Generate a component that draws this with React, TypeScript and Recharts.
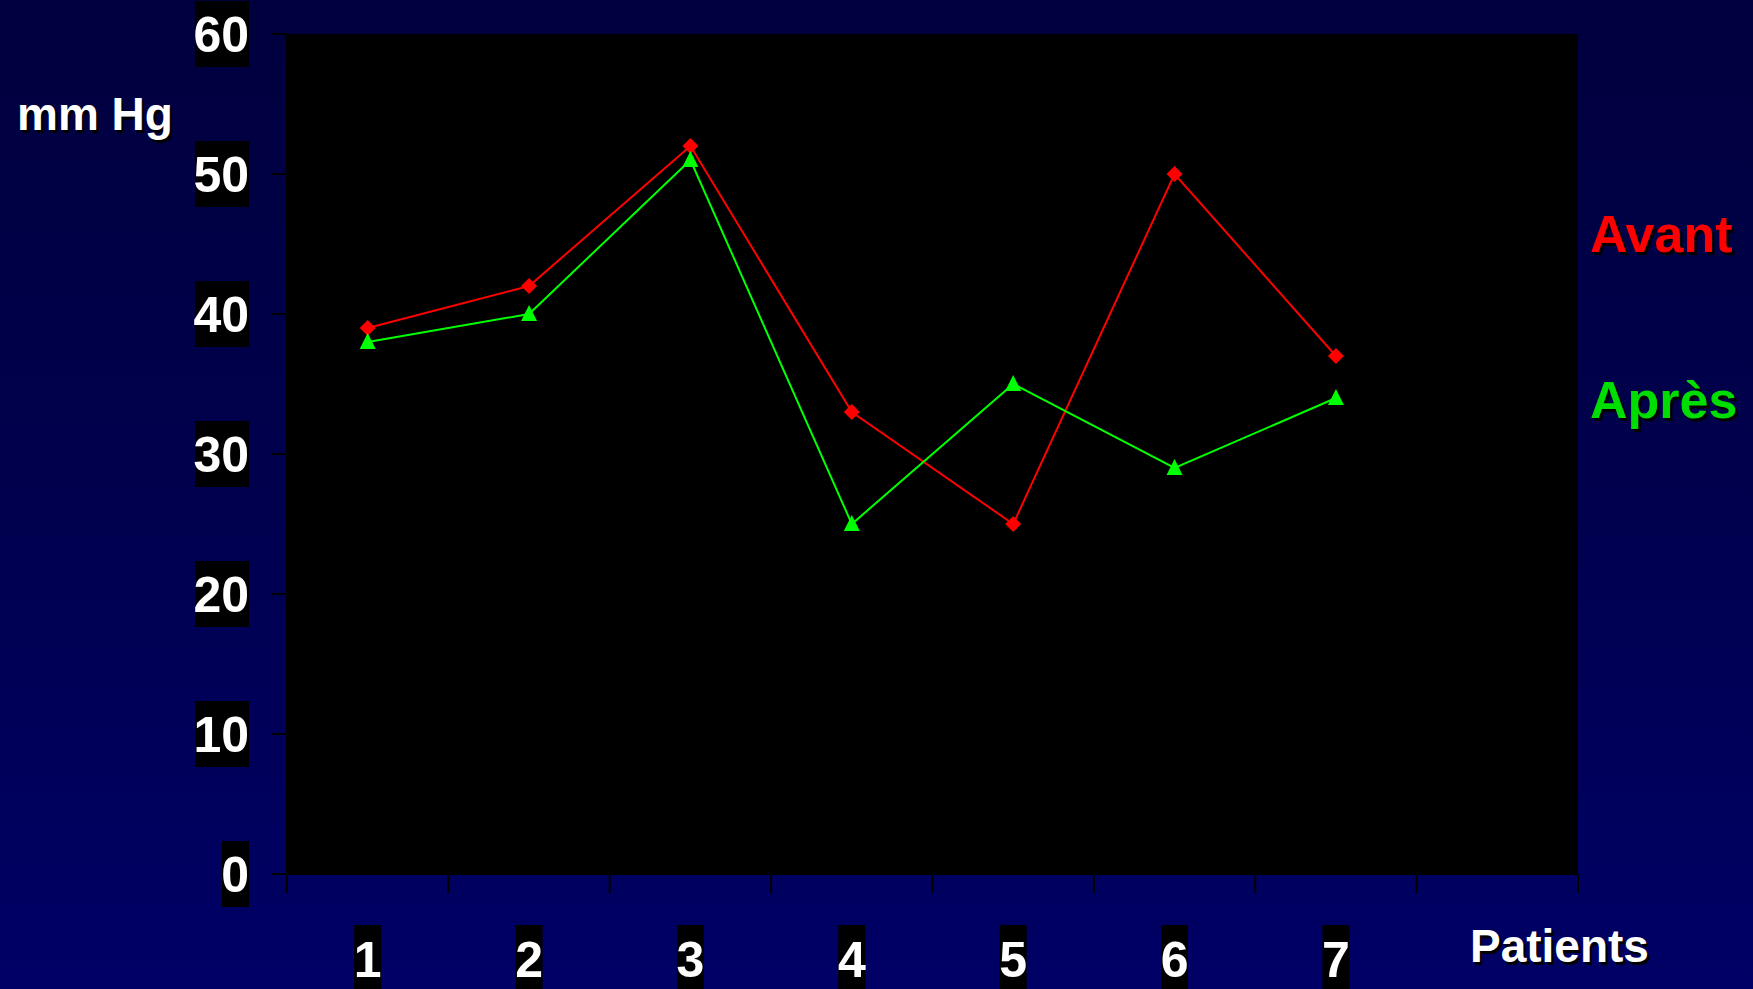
import React from 'react';
import { LineChart, Line, XAxis, YAxis, CartesianGrid } from 'recharts';

const patients = [1, 2, 3, 4, 5, 6, 7];
const avant = [39, 42, 52, 33, 25, 50, 37];
const apres = [38, 40, 51, 25, 35, 29, 34];
const yTicks = [0, 10, 20, 30, 40, 50, 60];
const bandEdges = [0.5, 1.5, 2.5, 3.5, 4.5, 5.5, 6.5, 7.5, 8.5];

const rows = patients.map((p, i) => ({ patient: p, avant: avant[i], apres: apres[i] }));

const W = 1753;
const H = 989;
const FONT = '"Liberation Sans", Arial, sans-serif';

function Diamond(props: any) {
  const { cx, cy } = props;
  if (cx == null || cy == null) return null;
  const r = 8;
  return <path d={`M${cx},${cy - r}L${cx + r},${cy}L${cx},${cy + r}L${cx - r},${cy}Z`} fill="#ff0000" />;
}

function Triangle(props: any) {
  const { cx, cy } = props;
  if (cx == null || cy == null) return null;
  return <path d={`M${cx},${cy - 9}L${cx + 8},${cy + 7}L${cx - 8},${cy + 7}Z`} fill="#00ff00" />;
}

function YTick(props: any) {
  const { y, payload } = props;
  const label = String(payload.value);
  const w = label.length * 27;
  return (
    <g>
      <rect x={249 - w} y={y - 33} width={w} height={66} fill="#000" />
      <text x={249} y={y + 18} textAnchor="end" fill="#fff" fontFamily={FONT} fontWeight="bold" fontSize={50}>
        {label}
      </text>
    </g>
  );
}

function XTick(props: any) {
  const { x, payload } = props;
  return (
    <g>
      <rect x={x - 13.5} y={925} width={27} height={70} fill="#000" />
      <text x={x} y={977} textAnchor="middle" fill="#fff" fontFamily={FONT} fontWeight="bold" fontSize={50}>
        {payload.value}
      </text>
    </g>
  );
}

function NoLabel() {
  return <g />;
}

function Shadowed({ x, y, fill, size, children }: any) {
  return (
    <g fontFamily={FONT} fontWeight="bold" fontSize={size}>
      <text x={x + 2.5} y={y + 2.5} fill="#000">{children}</text>
      <text x={x} y={y} fill={fill}>{children}</text>
    </g>
  );
}

export default function App() {
  return (
    <div
      style={{
        position: 'absolute',
        left: 0,
        top: 0,
        width: W,
        height: H,
        background: 'linear-gradient(to bottom, #00003e 0%, #00004e 50%, #000066 100%)',
        overflow: 'hidden',
      }}
    >
      <LineChart width={W} height={H} data={rows} margin={{ top: 34, right: 175, bottom: 0, left: 0 }}>
        <CartesianGrid horizontal={false} vertical={false} fill="#000" />
        <XAxis
          xAxisId="edges"
          type="number"
          dataKey="patient"
          domain={[0.5, 8.5]}
          ticks={bandEdges}
          interval={0}
          tick={<NoLabel />}
          tickSize={19}
          height={114}
          axisLine={{ stroke: '#000', strokeWidth: 2 }}
          tickLine={{ stroke: '#000', strokeWidth: 2 }}
        />
        <XAxis
          xAxisId="labels"
          type="number"
          dataKey="patient"
          domain={[0.5, 8.5]}
          ticks={patients}
          interval={0}
          tick={<XTick />}
          axisLine={false}
          tickLine={false}
          height={1}
        />
        <YAxis
          domain={[0, 60]}
          ticks={yTicks}
          width={287}
          tick={<YTick />}
          tickSize={15}
          axisLine={{ stroke: '#000', strokeWidth: 2 }}
          tickLine={{ stroke: '#000', strokeWidth: 2 }}
          interval={0}
        />
        <Line
          xAxisId="labels"
          dataKey="avant"
          stroke="#ff0000"
          strokeWidth={2}
          dot={<Diamond />}
          activeDot={false}
          isAnimationActive={false}
        />
        <Line
          xAxisId="labels"
          dataKey="apres"
          stroke="#00ff00"
          strokeWidth={2}
          dot={<Triangle />}
          activeDot={false}
          isAnimationActive={false}
        />
      </LineChart>
      <svg width={W} height={H} style={{ position: 'absolute', left: 0, top: 0, pointerEvents: 'none' }}>
        <Shadowed x={17} y={130} fill="#fff" size={46}>mm Hg</Shadowed>
        <Shadowed x={1470} y={962} fill="#fff" size={46}>Patients</Shadowed>
        <Shadowed x={1590} y={252} fill="#ff0000" size={52}>Avant</Shadowed>
        <Shadowed x={1590} y={418} fill="#00dd00" size={52}>Après</Shadowed>
      </svg>
    </div>
  );
}
